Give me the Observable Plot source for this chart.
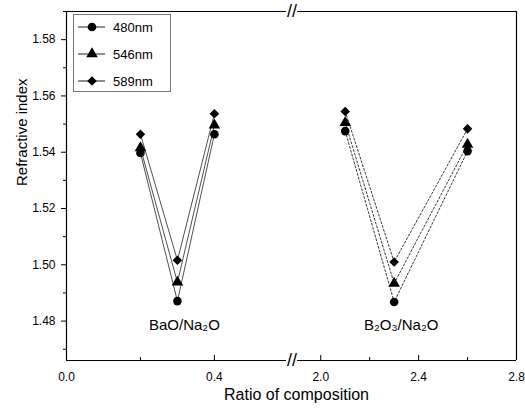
<!DOCTYPE html>
<html><head><meta charset="utf-8">
<script src="https://cdn.jsdelivr.net/npm/d3@7"></script>
<script src="https://cdn.jsdelivr.net/npm/@observablehq/plot@0.6"></script>
<style>
body{margin:0;background:#fff;}
#wrap{position:relative;width:525px;height:416px;font-family:"Liberation Sans",Arial,sans-serif;}
#legend{position:absolute;left:73px;top:14px;width:96px;height:76px;border:1px solid #777;background:#fff;}
#legend svg{display:block;}
</style></head><body><div id="wrap"></div>
<script>
// ---- data ----
const series = ["480nm", "546nm", "589nm"];
const seriesSymbols = ["circle", "triangle", "diamond2"];
const groupNames = ["BaO/Na₂O", "B₂O₃/Na₂O"];
const baoX = [0.2, 0.3, 0.4];
const boX = [2.1, 2.3, 2.6];
const bao480 = [1.5397, 1.4871, 1.5464];
const bao546 = [1.5415, 1.4938, 1.5496];
const bao589 = [1.5464, 1.5016, 1.5537];
const bo480 = [1.5475, 1.4868, 1.5404];
const bo546 = [1.5505, 1.4934, 1.5428];
const bo589 = [1.5545, 1.5010, 1.5483];
const groupLabelX = [0.3, 2.3];
const yMajor = [1.48, 1.50, 1.52, 1.54, 1.56, 1.58];
const yMinor = [1.47, 1.49, 1.51, 1.53, 1.55, 1.57, 1.59];
const xMajor = [0.0, 0.4, 2.0, 2.4, 2.8];
const xMinor = [0.2, 2.2, 2.6];
const xBreak = [0.595, 1.905];
const xLimits = [0, 2.8];
const yLimits = [1.466, 1.590];

// ---- tables ----
const groupData = [
  {name: groupNames[0], x: baoX, ys: [bao480, bao546, bao589]},
  {name: groupNames[1], x: boX, ys: [bo480, bo546, bo589]}
];
const rows = [];
groupData.forEach((g, gi) => g.ys.forEach((ys, si) => ys.forEach((y, i) =>
  rows.push({group: gi, series: series[si], x: g.x[i], y}))));
const labels = groupNames.map((label, i) => ({label, x: groupLabelX[i]}));
const frameSegs = [];
[yLimits[0], yLimits[1]].forEach(y => {
  frameSegs.push({y, x1: xLimits[0], x2: xBreak[0]});
  frameSegs.push({y, x1: xBreak[1], x2: xLimits[1]});
});
const breakMarks = [yLimits[0], yLimits[1]].map(y => ({y, x: (xBreak[0] + xBreak[1]) / 2}));

// ---- layout ----
const W = 525, H = 416, mL = 66, mR = 9, mT = 11, mB = 56;
const plotH = H - mT - mB;
const xRange = [mL, 286, 297, W - mR];
const font = "'Liberation Sans', Arial, sans-serif";

const chart = Plot.plot({
  width: W, height: H,
  marginLeft: mL, marginRight: mR, marginTop: mT, marginBottom: mB,
  style: {fontFamily: font, fontSize: "12px", color: "#000", background: "#fff"},
  x: {type: "linear", domain: [xLimits[0], xBreak[0], xBreak[1], xLimits[1]], range: xRange},
  y: {domain: yLimits},
  symbol: {domain: series, range: seriesSymbols},
  marks: [
    Plot.axisY({ticks: yMajor, tickSize: 5, tickPadding: 6, tickFormat: d3.format(".2f"), label: null, fontSize: 12}),
    Plot.axisY({ticks: yMinor, tickSize: 3, tickFormat: () => "", label: null}),
    Plot.axisX({ticks: xMajor, tickSize: 0, tickPadding: 12, tickFormat: d3.format(".1f"), label: null, fontSize: 12}),
    Plot.tickX(xMajor, {x: d => d, insetTop: plotH - 5, stroke: "#000"}),
    Plot.tickX(xMinor, {x: d => d, insetTop: plotH - 3, stroke: "#000"}),
    Plot.ruleX(xLimits, {stroke: "#000", strokeWidth: 1.2}),
    Plot.ruleY(frameSegs, {y: "y", x1: "x1", x2: "x2", stroke: "#000", strokeWidth: 1.2}),
    Plot.text(breakMarks, {x: "x", y: "y", text: () => "//", fontSize: 18, fill: "#000"}),
    Plot.line(rows.filter(d => d.group === 0), {x: "x", y: "y", z: "series", stroke: "#222", strokeWidth: 0.8}),
    Plot.line(rows.filter(d => d.group === 1), {x: "x", y: "y", z: "series", stroke: "#222", strokeWidth: 0.9, strokeDasharray: "2,2"}),
    Plot.dot(rows, {x: "x", y: "y", symbol: "series", fill: "#000", stroke: "none", r: 4.3}),
    Plot.text(labels, {x: "x", text: "label", frameAnchor: "bottom", dy: -31, dx: 7, fontSize: 15, fill: "#000"}),
    Plot.text(["Refractive index"], {frameAnchor: "left", dx: -44, rotate: -90, fontSize: 15, fill: "#000"}),
    Plot.text(["Ratio of composition"], {frameAnchor: "bottom", dy: 39, dx: 5, fontSize: 16, fill: "#000"})
  ]
});
const wrap = document.getElementById("wrap");
wrap.appendChild(chart);

// ---- legend (inside the frame, top-left) ----
const symMap = {circle: d3.symbolCircle, triangle: d3.symbolTriangle, diamond2: d3.symbolDiamond2};
const leg = document.createElement("div");
leg.id = "legend";
wrap.appendChild(leg);
const lsvg = d3.select(leg).append("svg").attr("width", 96).attr("height", 76);
series.forEach((s, i) => {
  const cy = 12 + i * 27;
  const g = lsvg.append("g");
  g.append("line").attr("x1", 4).attr("x2", 31).attr("y1", cy).attr("y2", cy).attr("stroke", "#222").attr("stroke-width", 1);
  g.append("path").attr("d", d3.symbol(symMap[seriesSymbols[i]], Math.PI * 4.3 * 4.3)()).attr("transform", `translate(18,${cy})`).attr("fill", "#000");
  g.append("text").attr("x", 39).attr("y", cy).attr("dy", "0.35em").attr("font-size", 13).attr("font-family", font).attr("fill", "#000").text(s);
});
</script>
</body></html>
